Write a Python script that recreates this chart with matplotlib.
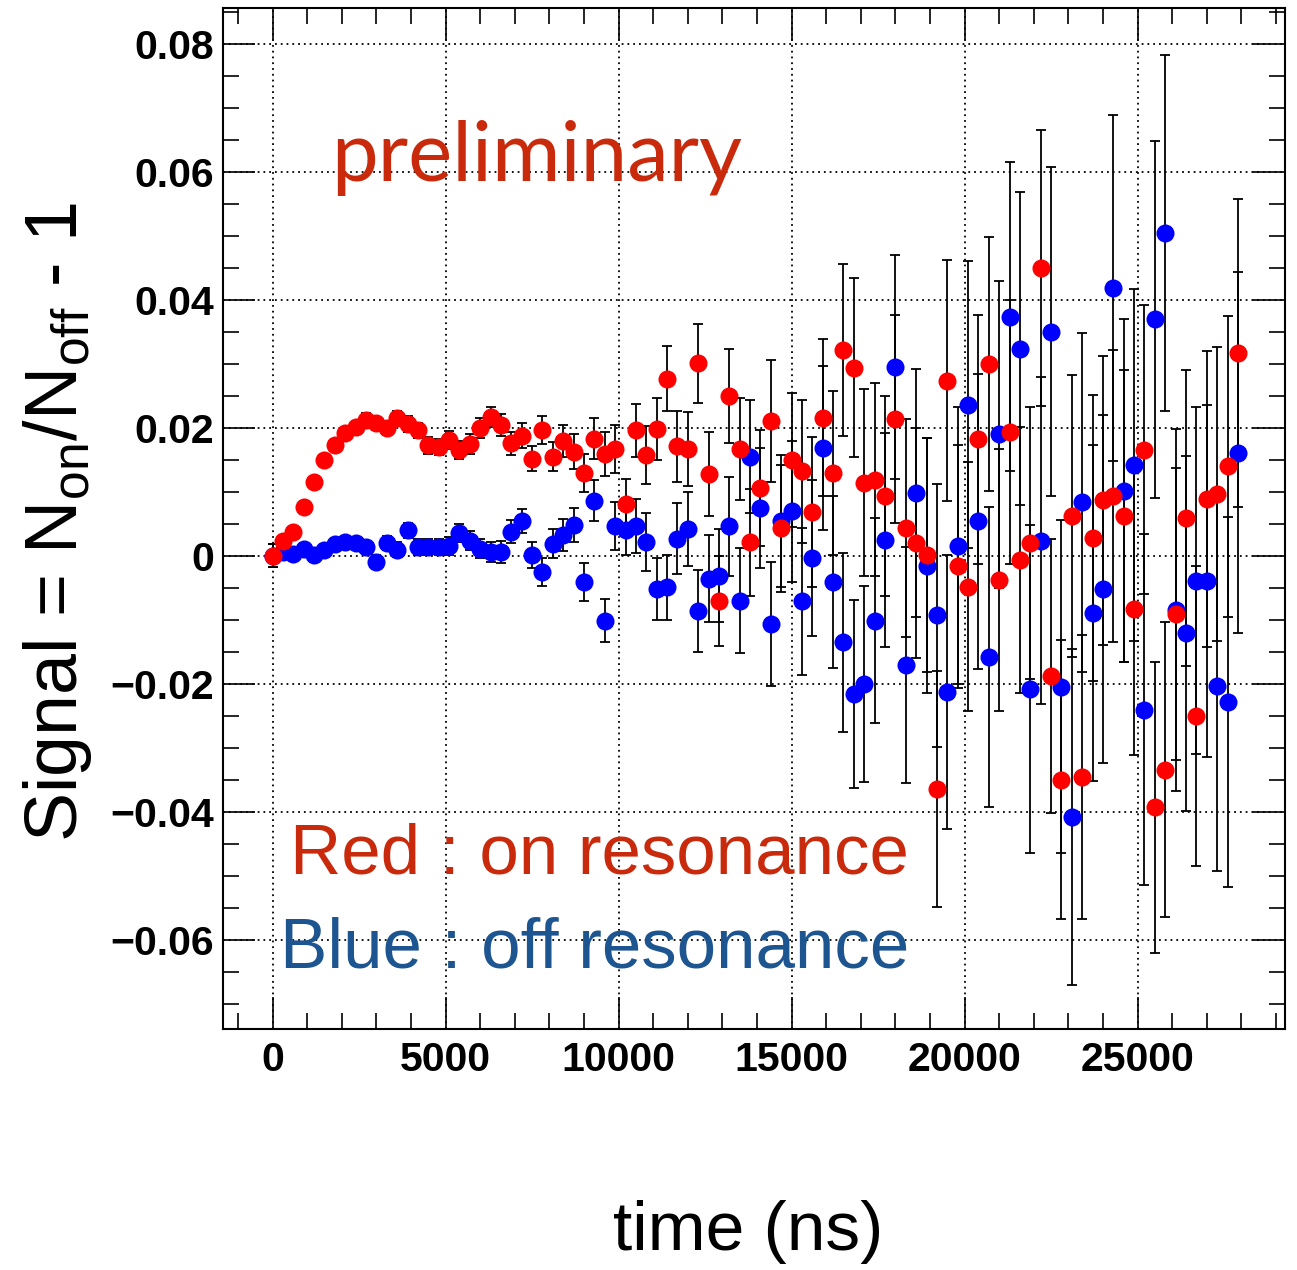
import matplotlib
matplotlib.use("Agg")
import matplotlib.pyplot as plt
import numpy as np
from matplotlib.ticker import MultipleLocator, FuncFormatter

plt.rcParams['font.family'] = ['Liberation Sans', 'DejaVu Sans']
plt.rcParams['mathtext.fontset'] = 'custom'
plt.rcParams['mathtext.rm'] = 'Liberation Sans'

# time bins (ns), one point every 300 ns
time_ns = np.arange(94) * 300

# on resonance (red)
signal_on = [
    0.0000, 0.0024, 0.0038, 0.0076, 0.0116, 0.0150, 0.0174, 0.0192, 0.0201, 0.0213,
    0.0207, 0.0200, 0.0215, 0.0206, 0.0196, 0.0173, 0.0170, 0.0181, 0.0166, 0.0175,
    0.0200, 0.0217, 0.0204, 0.0176, 0.0188, 0.0152, 0.0197, 0.0155, 0.0180, 0.0163,
    0.0130, 0.0183, 0.0159, 0.0167, 0.0081, 0.0196, 0.0158, 0.0198, 0.0277, 0.0171,
    0.0167, 0.0301, 0.0128, -0.0070, 0.0250, 0.0167, 0.0021, 0.0106, 0.0211, 0.0043,
    0.0150, 0.0132, 0.0069, 0.0216, 0.0129, 0.0322, 0.0294, 0.0114, 0.0119, 0.0094,
    0.0214, 0.0044, 0.0020, 0.0001, -0.0364, 0.0274, -0.0016, -0.0048, 0.0182, 0.0300,
    -0.0038, 0.0194, -0.0006, 0.0020, 0.0450, -0.0188, -0.0350, 0.0062, -0.0346, 0.0028,
    0.0087, 0.0094, 0.0062, -0.0083, 0.0166, -0.0393, -0.0334, -0.0091, 0.0059, -0.0250,
    0.0089, 0.0097, 0.0140, 0.0317,
]
err_on = [
    0.0018, 0.0004, 0.0005, 0.0006, 0.0006, 0.0007, 0.0008, 0.0008, 0.0009, 0.0010,
    0.0010, 0.0011, 0.0011, 0.0012, 0.0012, 0.0013, 0.0013, 0.0014, 0.0014, 0.0015,
    0.0015, 0.0016, 0.0017, 0.0018, 0.0019, 0.0020, 0.0022, 0.0023, 0.0025, 0.0027,
    0.0030, 0.0032, 0.0034, 0.0037, 0.0039, 0.0042, 0.0045, 0.0048, 0.0051, 0.0055,
    0.0058, 0.0062, 0.0066, 0.0070, 0.0074, 0.0079, 0.0084, 0.0090, 0.0095, 0.0099,
    0.0105, 0.0112, 0.0117, 0.0123, 0.0128, 0.0134, 0.0140, 0.0146, 0.0151, 0.0156,
    0.0162, 0.0170, 0.0180, 0.0183, 0.0185, 0.0188, 0.0190, 0.0195, 0.0195, 0.0198,
    0.0205, 0.0206, 0.0208, 0.0212, 0.0215, 0.0214, 0.0218, 0.0220, 0.0222, 0.0223,
    0.0226, 0.0228, 0.0228, 0.0228, 0.0226, 0.0228, 0.0230, 0.0228, 0.0231, 0.0235,
    0.0231, 0.0230, 0.0235, 0.0241,
]

# off resonance (blue)
signal_off = [
    0.0000, 0.0006, 0.0003, 0.0011, 0.0001, 0.0010, 0.0019, 0.0021, 0.0020, 0.0014,
    -0.0009, 0.0020, 0.0010, 0.0040, 0.0014, 0.0014, 0.0014, 0.0015, 0.0036, 0.0024,
    0.0011, 0.0006, 0.0006, 0.0038, 0.0055, 0.0001, -0.0025, 0.0019, 0.0032, 0.0048,
    -0.0041, 0.0086, -0.0101, 0.0047, 0.0040, 0.0047, 0.0022, -0.0052, -0.0049, 0.0027,
    0.0042, -0.0086, -0.0036, -0.0031, 0.0046, -0.0070, 0.0155, 0.0075, -0.0106, 0.0054,
    0.0070, -0.0071, -0.0003, 0.0169, -0.0041, -0.0135, -0.0216, -0.0200, -0.0101, 0.0025,
    0.0295, -0.0170, 0.0098, -0.0015, -0.0093, -0.0212, 0.0016, 0.0236, 0.0054, -0.0158,
    0.0190, 0.0374, 0.0324, -0.0208, 0.0024, 0.0350, -0.0204, -0.0408, 0.0084, -0.0089,
    -0.0052, 0.0419, 0.0102, 0.0142, -0.0240, 0.0370, 0.0505, -0.0084, -0.0121, -0.0039,
    -0.0039, -0.0203, -0.0228, 0.0161,
]
err_off = [
    0.0018, 0.0004, 0.0005, 0.0006, 0.0006, 0.0007, 0.0008, 0.0008, 0.0009, 0.0010,
    0.0010, 0.0011, 0.0011, 0.0012, 0.0012, 0.0013, 0.0013, 0.0014, 0.0014, 0.0015,
    0.0015, 0.0016, 0.0017, 0.0018, 0.0019, 0.0020, 0.0022, 0.0023, 0.0025, 0.0027,
    0.0030, 0.0032, 0.0034, 0.0037, 0.0039, 0.0042, 0.0045, 0.0048, 0.0051, 0.0055,
    0.0058, 0.0064, 0.0068, 0.0073, 0.0077, 0.0082, 0.0088, 0.0094, 0.0097, 0.0103,
    0.0110, 0.0115, 0.0122, 0.0128, 0.0134, 0.0140, 0.0147, 0.0153, 0.0160, 0.0167,
    0.0175, 0.0184, 0.0194, 0.0199, 0.0206, 0.0214, 0.0216, 0.0224, 0.0230, 0.0234,
    0.0240, 0.0242, 0.0244, 0.0256, 0.0256, 0.0257, 0.0260, 0.0262, 0.0265, 0.0262,
    0.0272, 0.0270, 0.0268, 0.0275, 0.0274, 0.0279, 0.0278, 0.0283, 0.0277, 0.0271,
    0.0275, 0.0289, 0.0289, 0.0282,
]

fig = plt.figure(figsize=(12.97, 12.70), dpi=100)
ax = fig.add_axes([0.1723, 0.1898, 0.9907 - 0.1723, 0.9937 - 0.1898])

# error bars first, markers on top (red over blue)
for y, e in [(signal_off, err_off), (signal_on, err_on)]:
    ax.errorbar(time_ns, y, yerr=e, fmt='none', ecolor='black',
                elinewidth=1.3, capsize=3.4, capthick=1.3, zorder=2)
ax.plot(time_ns, signal_off, 'o', color='#0000ff', markersize=13,
        markeredgewidth=0, zorder=3)
ax.plot(time_ns, signal_on, 'o', color='#ff0000', markersize=13,
        markeredgewidth=0, zorder=4)

ax.set_xlim(-1420, 29260)
ax.set_ylim(-0.0739, 0.0856)

ax.xaxis.set_major_locator(MultipleLocator(5000))
ax.xaxis.set_minor_locator(MultipleLocator(1000))
ax.yaxis.set_major_locator(MultipleLocator(0.02))
ax.yaxis.set_minor_locator(MultipleLocator(0.005))


def yfmt(v, pos):
    if abs(v) < 1e-9:
        return '0'
    s = f'{abs(v):.2f}'
    return ('\u2212' + s) if v < 0 else s


ax.yaxis.set_major_formatter(FuncFormatter(yfmt))

ax.grid(True, which='major', color='black', linestyle=(0, (1, 2.2)), linewidth=1.3)
ax.set_axisbelow(True)

ax.tick_params(which='both', direction='in', top=True, right=True, width=1.2)
ax.tick_params(which='major', length=23)
ax.tick_params(which='minor', length=11.5)
ax.tick_params(axis='y', pad=7)
ax.tick_params(axis='x', pad=9)
for lab in ax.get_xticklabels() + ax.get_yticklabels():
    lab.set_fontsize(29.5)
    lab.set_fontweight('bold')
for sp in ax.spines.values():
    sp.set_linewidth(1.5)

W, H = 1297, 1270
fig.text(58 / W, 1 - 522 / H, r'Signal = N$_\mathregular{on}$/N$_\mathregular{off}$ - 1',
         rotation=90, ha='center', va='center', fontsize=53)
fig.text(748 / W, 1 - 1250 / H, 'time (ns)', ha='center', va='baseline', fontsize=50)

fig.text(331 / W, 1 - 181 / H, 'preliminary', color='#c92a0c', fontsize=60,
         ha='left', va='baseline', family=['Lato', 'Liberation Sans'])
fig.text(290 / W, 1 - 873 / H, 'Red : on resonance', color='#c92a0c', fontsize=51,
         ha='left', va='baseline')
fig.text(280 / W, 1 - 968 / H, 'Blue : off resonance', color='#1d5591', fontsize=51,
         ha='left', va='baseline')

fig.savefig('out.png', dpi=100, facecolor='white')
